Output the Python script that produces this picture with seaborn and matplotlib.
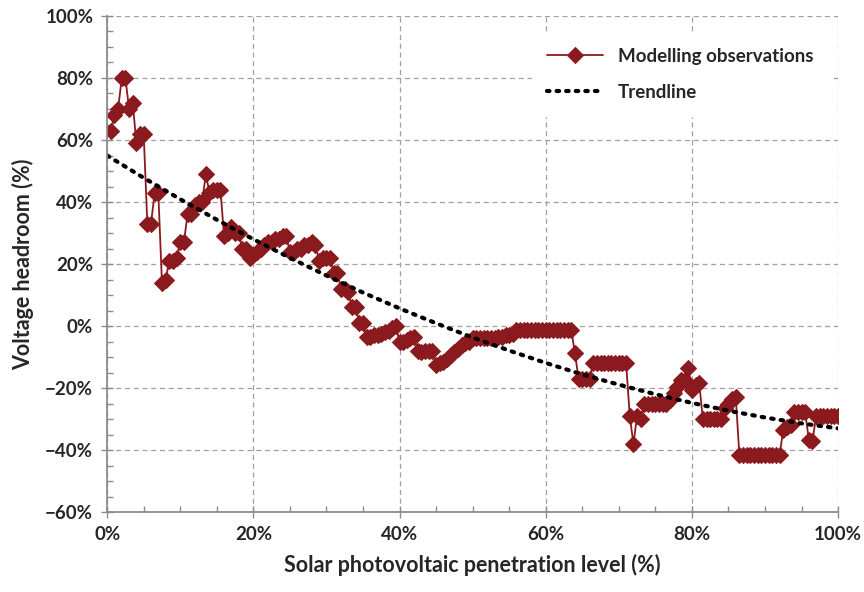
import numpy as np
import pandas as pd
import seaborn as sns
import matplotlib.pyplot as plt
from matplotlib.ticker import MultipleLocator, PercentFormatter

# penetration level (%) on a 0.5 % grid
penetration = np.arange(0.5, 100.01, 0.5)

# modelled voltage headroom (%)
headroom = [
    63, 68, 70, 80, 80, 70, 72, 59, 62, 62,
    33, 33, 43, 43, 14, 15, 21, 21, 22, 27,
    27, 36, 36, 39, 40, 40, 49, 43, 44, 44,
    44, 29, 30, 32, 30, 30, 25, 25, 22, 23,
    24, 25, 26, 27, 27, 28, 28, 29, 29, 24,
    24, 25, 25, 26, 26, 27, 26, 21, 22, 22,
    22, 17, 17, 12, 12, 11, 6, 6, 1, 1,
    -3.5, -3.5, -3, -3, -2.5, -2, -1.5, -0.5, 0, -5,
    -5, -4.5, -4, -3.5, -8, -8.5, -8, -8, -8, -12.5,
    -12, -11.5, -10.5, -9.5, -8.5, -7.5, -6, -5.5, -5, -4,
    -4, -4, -4, -4, -4, -4, -3.5, -3.5, -3, -3,
    -2.5, -1.3, -1.3, -1.3, -1.3, -1.3, -1.3, -1.3, -1.3, -1.3,
    -1.3, -1.3, -1.3, -1.3, -1.3, -1.3, -1.3, -8.8, -17, -17,
    -17, -17, -12, -12, -12, -12, -12, -12, -12, -12,
    -12, -12, -29, -38, -29, -30, -25, -25, -25, -25,
    -25, -25, -25, -24, -21.5, -19.5, -17.5, -17.5, -13.5, -20.5,
    -19, -18.4, -30, -30, -30, -30, -30, -30, -26.5, -25,
    -23.5, -23, -41.5, -41.5, -41.5, -41.5, -41.5, -41.5, -41.5, -41.5,
    -41.5, -41.5, -41.5, -41.5, -33.5, -32.5, -32, -27.7, -27.7, -27.7,
    -27.7, -36.8, -37, -29, -29, -29, -29, -29, -29, -29,
]

# trendline (%), read every 5 %
trend_x = [0, 5, 10, 15, 20, 25, 30, 35, 40, 45, 50,
           55, 60, 65, 70, 75, 80, 85, 90, 95, 100]
trend_y = [55, 47.8, 40.9, 34.3, 28, 22, 16.3, 10.8, 5.7, 0.9, -3.7,
           -7.9, -11.9, -15.6, -18.9, -22, -24.8, -27.3, -29.5, -31.4, -33]

obs = pd.DataFrame({'x': penetration, 'y': headroom})
trend = pd.DataFrame({'x': trend_x, 'y': trend_y})

sns.set_theme(style='white')
plt.rcParams['font.family'] = ['Lato', 'DejaVu Sans']
plt.rcParams['font.weight'] = 'bold'

fig = plt.figure(figsize=(8.64, 5.92), dpi=100)
ax = fig.add_axes([0.124, 0.135, 0.846, 0.838])

red = '#8b1a1f'
sns.lineplot(data=obs, x='x', y='y', ax=ax, color=red, lw=1.3,
             marker='D', markersize=8.5, markeredgecolor=red,
             label='Modelling observations')
sns.lineplot(data=trend, x='x', y='y', ax=ax, color='black', lw=3,
             linestyle=(0, (0.6, 1.7)), dash_capstyle='round',
             label='Trendline')

ax.set_xlim(0, 100)
ax.set_ylim(-60, 100)
ax.xaxis.set_major_locator(MultipleLocator(20))
ax.yaxis.set_major_locator(MultipleLocator(20))
ax.xaxis.set_minor_locator(MultipleLocator(5))
ax.yaxis.set_minor_locator(MultipleLocator(5))
ax.xaxis.set_major_formatter(PercentFormatter(decimals=0))
ax.yaxis.set_major_formatter(PercentFormatter(decimals=0))

ax.grid(True, which='major', color='#a0a0a0', linestyle=(0, (4, 3)), lw=0.9)
for s in ['top', 'right']:
    ax.spines[s].set_visible(False)
for s in ['left', 'bottom']:
    ax.spines[s].set_color('#8c8c8c')
    ax.spines[s].set_linewidth(1.3)
ax.tick_params(which='major', direction='inout', length=8, width=1, color='#8c8c8c',
               labelsize=13.5, pad=6, bottom=True, left=True)
ax.tick_params(which='minor', direction='in', length=4, width=1, color='#8c8c8c',
               bottom=True, left=True)
for lab in ax.get_xticklabels() + ax.get_yticklabels():
    lab.set_fontweight('bold')

ax.set_xlabel('Solar photovoltaic penetration level (%)', fontsize=15.5, fontweight='bold', labelpad=8)
ax.set_ylabel('Voltage headroom (%)', fontsize=15.5, fontweight='bold', labelpad=8)

leg = ax.legend(loc='upper right', frameon=True, fontsize=13.5, handlelength=3,
                borderpad=0.8, labelspacing=1.0, bbox_to_anchor=(1.0, 0.985))
leg.get_frame().set_facecolor('white')
leg.get_frame().set_edgecolor('white')
leg.get_frame().set_alpha(1)

fig.savefig('out.png', dpi=100)
